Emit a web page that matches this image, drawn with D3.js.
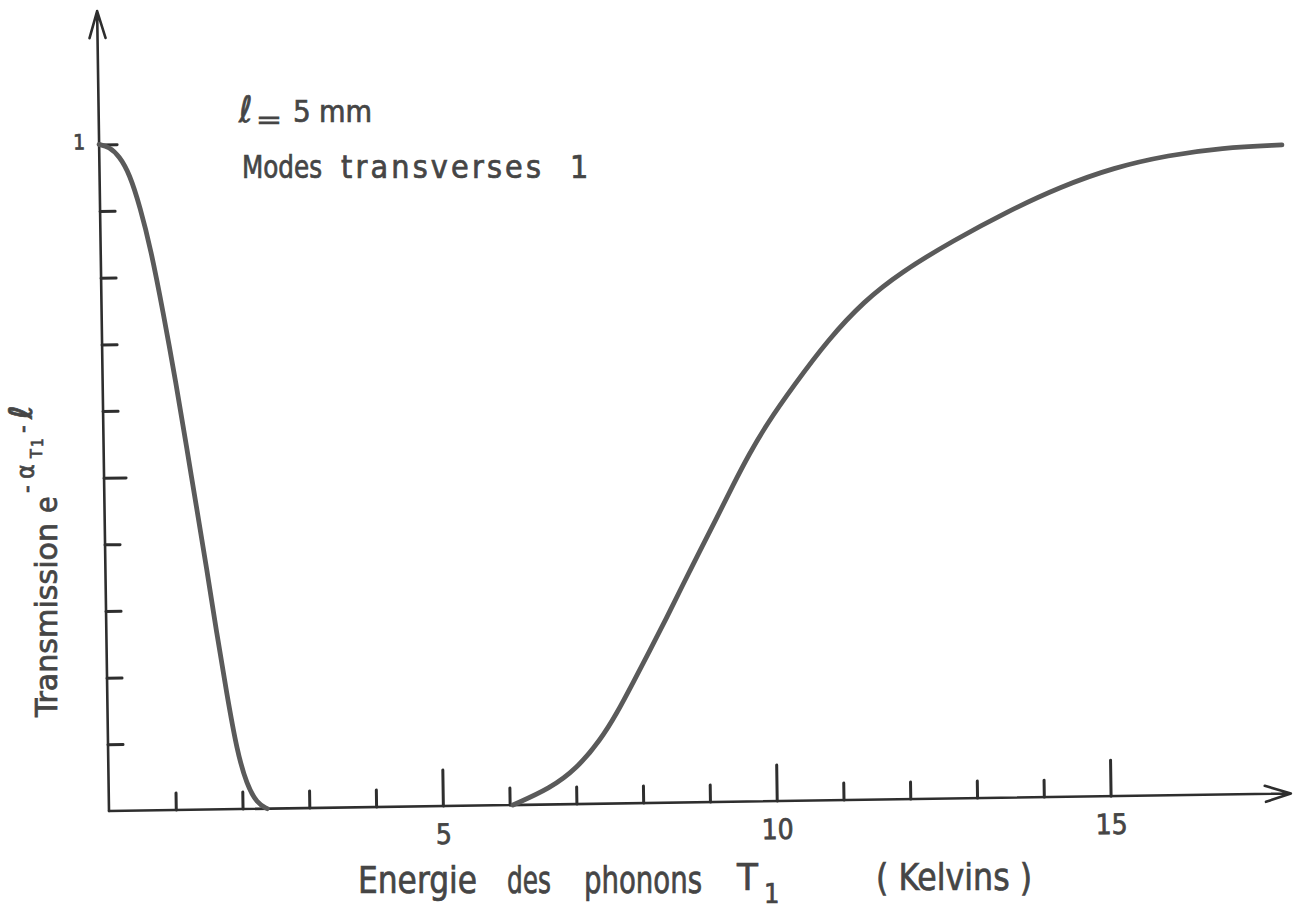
<!DOCTYPE html>
<html>
<head>
<meta charset="utf-8">
<script src="https://cdn.jsdelivr.net/npm/d3@7"></script>
<style>
  html, body { margin: 0; padding: 0; background: #ffffff; }
  svg { display: block; }
  text { font-family: "DejaVu Sans Condensed", "DejaVu Sans", sans-serif; fill: #454545; stroke: #454545; stroke-width: 0.7px; }
</style>
</head>
<body>
<svg id="chart" width="1306" height="913"></svg>
<script>
// Transmission e^(-alpha_T1 * l) of T1 transverse phonons through a 5 mm sample

// Low-energy branch (Kelvins, transmission)
const energyLow = [0, 0.15, 0.3, 0.45, 0.6, 0.75, 0.92, 1.1, 1.24, 1.38, 1.52, 1.65, 1.79, 1.93, 2.07, 2.22, 2.37];
const transLow  = [1.0, 0.996, 0.982, 0.955, 0.905, 0.842, 0.748, 0.639, 0.546, 0.452, 0.359, 0.266, 0.173, 0.087, 0.036, 0.008, 0.0];

// High-energy branch (Kelvins, transmission)
const energyHigh = [6.05, 6.61, 7.01, 7.37, 7.63, 7.87, 8.13, 8.39, 8.64, 8.90, 9.16, 9.41, 9.67, 9.93, 10.34, 10.88, 11.42, 11.97, 12.77, 13.58, 14.38, 15.19, 16.01, 16.8, 17.71];
const transHigh  = [0, 0.024, 0.053, 0.095, 0.136, 0.180, 0.228, 0.277, 0.326, 0.376, 0.425, 0.474, 0.522, 0.565, 0.622, 0.692, 0.748, 0.790, 0.837, 0.879, 0.915, 0.943, 0.960, 0.970, 0.973];

// Axis ticks
const xMinorTicks = [1, 2, 3, 4, 6, 7, 8, 9, 11, 12, 13, 14];
const xLabelTicks = [5, 10, 15];
const yMinorTicks = [0.1, 0.2, 0.3, 0.4, 0.6, 0.7, 0.8, 0.9];
const yMidTicks = [0.5];
const yLabelTicks = [1];

const xMax = 17.7;
const yMax = 1.2;

const svg = d3.select("#chart");

const x = d3.scaleLinear().domain([0, xMax]).range([0, 1182]);
const y = d3.scaleLinear().domain([0, yMax]).range([0, -800]);

// plotting frame, drawn slightly askew like the hand-inked original
const plot = svg.append("g").attr("transform", "translate(109,811) rotate(-0.85)");

const ink = "#2e2e2e";

// axis lines with open arrowheads
plot.append("path")
  .attr("d", `M${x(0)},${y(0)} L${x(xMax)},${y(0)} M${x(xMax) - 26},${y(0) - 8} L${x(xMax)},${y(0)} L${x(xMax) - 25},${y(0) + 8}`)
  .attr("fill", "none").attr("stroke", ink).attr("stroke-width", 2.6)
  .attr("stroke-linejoin", "round").attr("stroke-linecap", "round");
plot.append("path")
  .attr("d", `M${x(0)},${y(0)} L${x(0)},${y(yMax)} M${x(0) - 8},${y(yMax) + 27} L${x(0)},${y(yMax)} L${x(0) + 8},${y(yMax) + 27}`)
  .attr("fill", "none").attr("stroke", ink).attr("stroke-width", 2.6)
  .attr("stroke-linejoin", "round").attr("stroke-linecap", "round");

function styleAxis(g) {
  g.select(".domain").remove();
  g.selectAll(".tick line").attr("stroke", ink).attr("stroke-width", 3).attr("stroke-linecap", "round");
  g.selectAll(".tick text")
    .attr("fill", "#454545")
    .attr("font-family", "DejaVu Sans Condensed, DejaVu Sans, sans-serif");
}

// x ticks (pointing up into the plot)
plot.append("g")
  .call(d3.axisBottom(x).tickValues(xMinorTicks).tickSize(-17).tickFormat(""))
  .call(styleAxis);
plot.append("g")
  .call(d3.axisBottom(x).tickValues(xLabelTicks).tickSize(-36).tickPadding(18).tickFormat(d3.format("d")))
  .call(styleAxis)
  .call(g => g.selectAll(".tick text").attr("font-size", 28));

// y ticks (pointing right into the plot)
plot.append("g")
  .call(d3.axisLeft(y).tickValues(yMinorTicks).tickSize(-15).tickFormat(""))
  .call(styleAxis);
plot.append("g")
  .call(d3.axisLeft(y).tickValues(yMidTicks).tickSize(-22).tickFormat(""))
  .call(styleAxis);
plot.append("g")
  .call(d3.axisLeft(y).tickValues(yLabelTicks).tickSize(-18).tickPadding(14).tickFormat(d3.format("d")))
  .call(styleAxis)
  .call(g => g.selectAll(".tick text").attr("font-size", 21).attr("dy", "0.2em"));

// transmission curves
const line = d3.line()
  .x(d => x(d[0]))
  .y(d => y(d[1]))
  .curve(d3.curveBasis);

const branches = [
  d3.zip(energyLow, transLow),
  d3.zip(energyHigh, transHigh)
];

plot.selectAll("path.curve")
  .data(branches)
  .join("path")
  .attr("class", "curve")
  .attr("d", line)
  .attr("fill", "none")
  .attr("stroke", "#5a5a5a")
  .attr("stroke-width", 4.8)
  .attr("stroke-linecap", "round");

// annotations
const ann = svg.append("g");
ann.append("text").attr("x", 239).attr("y", 122).attr("font-size", 36).text("ℓ");
ann.append("text").attr("x", 256).attr("y", 128).attr("font-size", 24)
  .attr("textLength", 26).attr("lengthAdjust", "spacingAndGlyphs").text("=");
ann.append("text").attr("x", 293).attr("y", 122).attr("font-size", 31).text("5");
ann.append("text").attr("x", 319).attr("y", 122).attr("font-size", 31)
  .attr("textLength", 53).attr("lengthAdjust", "spacingAndGlyphs").text("mm");

ann.append("text").attr("x", 242).attr("y", 178).attr("font-size", 32)
  .attr("textLength", 80).attr("lengthAdjust", "spacingAndGlyphs").text("Modes");
ann.append("text").attr("x", 341).attr("y", 178).attr("font-size", 32)
  .attr("textLength", 200).attr("lengthAdjust", "spacing").text("transverses");
ann.append("text").attr("x", 570).attr("y", 178).attr("font-size", 32).text("1");

// x-axis title
const xt = svg.append("g");
xt.append("text").attr("x", 358).attr("y", 893).attr("font-size", 38)
  .attr("textLength", 119).attr("lengthAdjust", "spacingAndGlyphs").text("Energie");
xt.append("text").attr("x", 507).attr("y", 893).attr("font-size", 38)
  .attr("textLength", 44).attr("lengthAdjust", "spacingAndGlyphs").text("des");
xt.append("text").attr("x", 584).attr("y", 893).attr("font-size", 38)
  .attr("textLength", 118).attr("lengthAdjust", "spacingAndGlyphs").text("phonons");
xt.append("text").attr("x", 737).attr("y", 890).attr("font-size", 38).text("T");
xt.append("text").attr("x", 764).attr("y", 903).attr("font-size", 27).text("1");
xt.append("text").attr("x", 876).attr("y", 890).attr("font-size", 38)
  .attr("textLength", 156).attr("lengthAdjust", "spacingAndGlyphs").text("( Kelvins )");

// y-axis title
const yt = svg.append("g").attr("transform", "translate(57,717) rotate(-90)");
yt.append("text").attr("x", 0).attr("y", 0).attr("font-size", 30)
  .attr("textLength", 194).attr("lengthAdjust", "spacingAndGlyphs").text("Transmission");
yt.append("text").attr("x", 204).attr("y", 0).attr("font-size", 30).text("e");
yt.append("text").attr("x", 224).attr("y", -22).attr("font-size", 24).text("-");
yt.append("text").attr("x", 238).attr("y", -23).attr("font-size", 25).text("α");
yt.append("text").attr("x", 259).attr("y", -15).attr("font-size", 16).text("T");
yt.append("text").attr("x", 270).attr("y", -14).attr("font-size", 15).text("1");
yt.append("text").attr("x", 284).attr("y", -26).attr("font-size", 24).text("-");
yt.append("text").attr("x", 298).attr("y", -25).attr("font-size", 32).attr("font-weight", "bold").text("ℓ");
</script>
</body>
</html>
